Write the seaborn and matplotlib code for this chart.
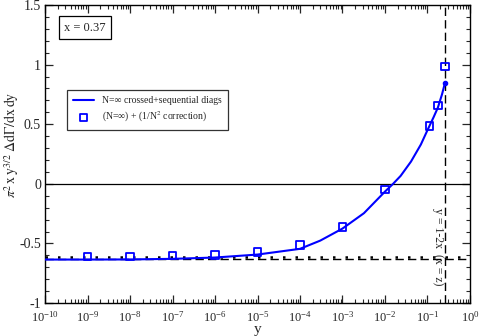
import numpy as np
import pandas as pd
import matplotlib
matplotlib.use("Agg")
import matplotlib.pyplot as plt
import matplotlib.ticker as mticker
import seaborn as sns

# curve: N=inf crossed+sequential diagrams
curve_y = [1e-10, 1e-9, 1e-8, 1e-7, 1e-6, 1e-5, 1e-4, 3e-4, 1e-3, 3.2e-3,
           1e-2, 0.0155, 0.0234, 0.041, 0.07, 0.1, 0.14, 0.176, 0.22, 0.26]
curve_val = [-0.635, -0.635, -0.634, -0.629, -0.618, -0.593, -0.545, -0.476,
             -0.375, -0.246, -0.065, 0.0, 0.067, 0.187, 0.33, 0.45, 0.56,
             0.64, 0.75, 0.85]

# squares: (N=inf) + 1/N^2 correction
pts_y = [1e-9, 1e-8, 1e-7, 1e-6, 1e-5, 1e-4, 1e-3, 1e-2, 0.11, 0.176, 0.26]
pts_val = [-0.61, -0.61, -0.60, -0.596, -0.573, -0.512, -0.361, -0.045,
           0.484, 0.657, 0.987]

dotted_level = -0.615
dashed_level = -0.632
y_limit = 0.26  # y = 1-2x

sns.set_style("ticks")
plt.rcParams["font.family"] = ["Liberation Serif", "DejaVu Serif"]
plt.rcParams["mathtext.fontset"] = "stix"

fig = plt.figure(figsize=(4.8, 3.36), dpi=100)
ax = fig.add_axes([0.094, 0.098, 0.885, 0.887])

ax.axhline(0, color="black", lw=0.9, zorder=1)
ax.axhline(dotted_level, color="black", lw=1.8, ls=(0, (1, 4)), zorder=1)
ax.axhline(dashed_level, color="black", lw=1.0, ls=(0, (6, 3)), zorder=1)
ax.axvline(y_limit, color="black", lw=1.0, ls=(0, (6, 3)), zorder=1)

df_c = pd.DataFrame({"y": curve_y, "v": curve_val})
df_p = pd.DataFrame({"y": pts_y, "v": pts_val})
sns.lineplot(data=df_c, x="y", y="v", ax=ax, color="#0000ff", lw=1.5,
             label="N=\u221e crossed+sequential diags", zorder=3)
ax.plot(curve_y[-1], curve_val[-1], "o", color="#0000ff", ms=3, zorder=4)
sns.scatterplot(data=df_p, x="y", y="v", ax=ax, marker="s", s=28,
                facecolor="none", edgecolor="#0000ff", linewidth=1.3,
                label="(N=\u221e) + (1/N$^2$ correction)", zorder=4)

ax.set_xscale("log")
ax.set_xlim(1e-10, 1)
ax.set_ylim(-1, 1.5)
ax.xaxis.set_major_locator(mticker.LogLocator(base=10, numticks=12))
ax.xaxis.set_minor_locator(mticker.LogLocator(base=10, subs=np.arange(2, 10), numticks=12))
ax.xaxis.set_minor_formatter(mticker.NullFormatter())
ax.yaxis.set_major_locator(mticker.MultipleLocator(0.5))
ax.yaxis.set_minor_locator(mticker.MultipleLocator(0.1))
ax.yaxis.set_major_formatter(mticker.FuncFormatter(lambda v, p: f"{v:g}"))
ax.tick_params(which="both", direction="in", top=True, right=True)
ax.tick_params(axis="x", pad=5, labelsize=9)
ax.tick_params(axis="y", pad=3, labelsize=10)
ax.tick_params(which="major", length=6, width=0.9)
ax.tick_params(which="minor", length=3, width=0.8)
for s in ax.spines.values():
    s.set_linewidth(1.0)
    s.set_color("black")

ax.set_xlabel("y", fontsize=11)
ax.xaxis.set_label_coords(0.5, -0.068)
ax.set_ylabel(r"$\pi^2\,\mathrm{x\,y}^{3/2}\;\Delta\mathrm{d}\Gamma/\mathrm{dx\,dy}$",
              fontsize=10)
ax.yaxis.set_label_coords(-0.056, 0.53)

ax.text(8.7e-10, 1.31, "x = 0.37", fontsize=9, ha="center", va="center",
        bbox=dict(boxstyle="square,pad=0.45", fc="white", ec="black", lw=0.9))
ax.text(0.18, -0.53, "y = 1-2x  (x = z)", rotation=270, fontsize=8.5,
        ha="center", va="center")

leg = ax.legend(loc="upper left", bbox_to_anchor=(0.04, 0.73), fontsize=7,
                frameon=True, fancybox=False, edgecolor="black",
                handlelength=2.2, borderpad=0.6, labelspacing=0.5)
leg.get_frame().set_linewidth(0.9)

fig.savefig("out.png", dpi=100)
